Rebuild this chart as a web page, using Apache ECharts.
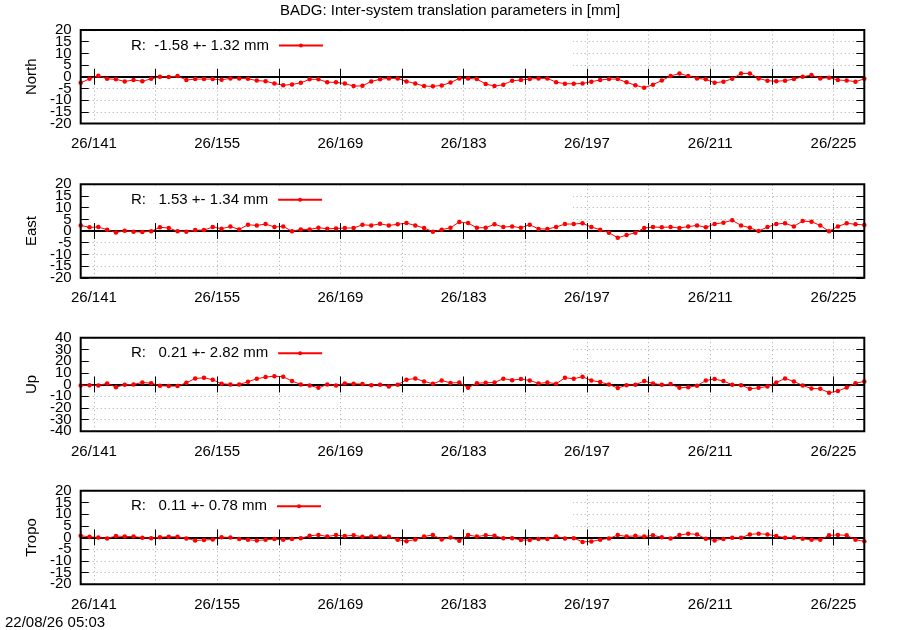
<!DOCTYPE html>
<html>
<head>
<meta charset="utf-8">
<script src="https://cdn.jsdelivr.net/npm/echarts@6/dist/echarts.min.js"></script>
<style>
html, body { margin: 0; padding: 0; background: #fff; }
#main { width: 900px; height: 630px; }
</style>
</head>
<body>
<div id="main"></div>
<script>
// day of year (2026), one solution per day
var days = [139.5, 140.5, 141.5, 142.5, 143.5, 144.5, 145.5, 146.5, 147.5, 148.5,
    149.5, 150.5, 151.5, 152.5, 153.5, 154.5, 155.5, 156.5, 157.5, 158.5,
    159.5, 160.5, 161.5, 162.5, 163.5, 164.5, 165.5, 166.5, 167.5, 168.5,
    169.5, 170.5, 171.5, 172.5, 173.5, 174.5, 175.5, 176.5, 177.5, 178.5,
    179.5, 180.5, 181.5, 182.5, 183.5, 184.5, 185.5, 186.5, 187.5, 188.5,
    189.5, 190.5, 191.5, 192.5, 193.5, 194.5, 195.5, 196.5, 197.5, 198.5,
    199.5, 200.5, 201.5, 202.5, 203.5, 204.5, 205.5, 206.5, 207.5, 208.5,
    209.5, 210.5, 211.5, 212.5, 213.5, 214.5, 215.5, 216.5, 217.5, 218.5,
    219.5, 220.5, 221.5, 222.5, 223.5, 224.5, 225.5, 226.5, 227.5, 228.5];

var northData = [-2.6, -0.9, 0.4, -0.9, -1.1, -2.0, -1.4, -1.9, -0.9, 0.0,
    -0.1, 0.3, -1.4, -1.0, -1.0, -1.0, -1.3, -0.7, -0.7, -0.9,
    -1.6, -1.9, -2.9, -3.6, -3.3, -2.6, -1.1, -1.1, -2.3, -2.4,
    -2.9, -4.0, -3.9, -2.0, -1.1, -0.7, -0.7, -2.0, -2.9, -4.0,
    -4.1, -3.7, -2.5, -0.7, -0.7, -1.0, -3.1, -4.0, -3.4, -1.7,
    -1.4, -1.0, -0.7, -0.7, -2.3, -3.0, -3.0, -2.9, -2.1, -1.4,
    -1.0, -1.0, -2.4, -3.6, -4.7, -3.4, -1.6, 0.3, 1.4, 0.3,
    -0.7, -1.1, -2.6, -2.1, -0.9, 1.4, 1.4, -0.7, -1.7, -1.9,
    -1.7, -1.0, 0.0, 0.7, -0.7, -0.4, -1.4, -1.6, -2.1, -0.9];

var eastData = [2.4, 1.6, 1.7, 0.6, -0.6, 0.1, -0.3, -0.4, -0.1, 1.6,
    1.3, -0.1, -0.3, 0.4, 0.4, 1.7, 1.0, 1.9, 0.7, 2.7,
    2.4, 3.0, 1.7, 2.0, -0.1, 0.7, 0.7, 1.4, 1.0, 1.1,
    1.3, 1.3, 2.7, 2.4, 3.1, 2.4, 2.9, 3.4, 2.4, 1.3,
    -0.3, 0.6, 1.4, 3.9, 3.4, 1.4, 1.4, 2.9, 1.7, 2.0,
    1.4, 2.7, 0.9, 0.9, 1.7, 3.0, 3.0, 3.3, 1.7, 0.6,
    -0.7, -2.9, -1.7, -0.7, 1.3, 1.7, 1.6, 1.7, 1.3, 1.9,
    2.4, 1.6, 3.0, 3.6, 4.6, 2.4, 1.4, 0.0, 1.7, 3.0,
    3.3, 2.0, 4.3, 4.0, 2.4, -0.1, 2.0, 3.3, 2.9, 2.6];

var upData = [-0.9, -0.6, -0.9, 0.9, -2.3, -0.3, 0.0, 1.7, 1.1, -1.1,
    -1.4, -1.4, 1.4, 5.1, 5.7, 4.0, 0.6, 0.0, 0.0, 2.3,
    4.9, 6.3, 7.1, 6.6, 2.9, 0.0, -0.9, -2.9, 0.0, -0.9,
    0.9, 0.6, 0.3, -0.6, -0.3, -1.7, -0.3, 4.0, 5.1, 2.6,
    0.6, 3.4, 1.3, 1.6, -2.8, 1.1, 1.4, 1.7, 4.9, 3.7,
    4.6, 3.4, 0.9, 1.7, 0.6, 5.7, 4.9, 6.6, 3.4, 2.0,
    0.0, -3.1, -0.6, -0.3, 2.9, 0.9, -0.3, 0.3, -2.9, -2.3,
    -1.1, 3.4, 4.6, 2.9, -0.3, -0.6, -3.7, -2.9, -1.7, 1.7,
    5.1, 2.6, -0.9, -3.4, -3.7, -7.1, -5.7, -2.6, 1.1, 2.6];

var tropoData = [0.7, 0.3, 0.0, -0.4, 0.6, 0.4, 0.4, -0.1, -0.3, 0.1,
    0.3, 0.3, -0.4, -1.3, -1.1, -0.9, 0.1, 0.0, -0.7, -1.0,
    -1.3, -1.0, -0.7, -1.0, -0.7, -0.3, 0.7, 1.1, 0.4, 1.0,
    0.6, 0.9, 0.3, 0.4, 0.3, 0.3, -1.0, -1.6, -0.9, 0.4,
    1.1, -0.9, 0.0, -1.4, 1.0, 0.4, 0.9, 0.7, -0.3, -0.3,
    -1.1, -1.1, -0.7, -0.7, 0.4, -0.4, -0.3, -1.9, -1.7, -1.0,
    -0.4, 1.0, 0.4, 0.7, 0.4, 0.9, 0.1, -0.4, 1.0, 1.6,
    1.3, -0.6, -1.3, -0.7, -0.1, -0.1, 1.3, 1.6, 1.3, 0.6,
    -0.1, 0.0, -0.6, -1.0, -1.0, 0.9, 1.1, 0.9, -1.0, -1.6];

var tickDays = [141, 148, 155, 162, 169, 176, 183, 190, 197, 204, 211, 218, 225];
var labelDays = [141, 155, 169, 183, 197, 211, 225];

var panelNames = ['North', 'East', 'Up', 'Tropo'];
var panelData = [northData, eastData, upData, tropoData];
var panelKeys = ['R:  -1.58 +- 1.32 mm', 'R:   1.53 +- 1.34 mm', 'R:   0.21 +- 2.82 mm', 'R:   0.11 +- 0.78 mm'];
var yMin = [-20, -20, -40, -20];
var yMax = [20, 20, 40, 20];
var yStep = [5, 5, 10, 5];

var font = 'Liberation Sans, Arial, sans-serif';
var plotLeft = 80.7, plotRight = 864.3, plotHeight = 93.5;
var panelTops = [30, 184.3, 337.7, 490.7];
var gridDot = { color: '#a8a8a8', type: [1, 3], width: 1 };

var myChart = echarts.init(document.getElementById('main'));

//竖直网格线和零线 (用markLine画)
var markData = [{ yAxis: 0, lineStyle: { color: '#000', width: 1.8, type: 'solid' } }];
tickDays.forEach(function (d) {
    markData.push({ xAxis: d, lineStyle: gridDot });
});

var grids = [], xAxes = [], yAxes = [], series = [], legends = [], boxes = [];
for (var p = 0; p < 4; p++) {
    //y轴刻度值分两组, 否则标签太密会被自动隐藏
    var yEven = [], yOdd = [];
    for (var k = 0, v = yMin[p]; v <= yMax[p]; v += yStep[p], k++) {
        if (k % 2 === 0) yEven.push(v); else yOdd.push(v);
    }

    grids.push({
        left: plotLeft, width: plotRight - plotLeft, top: panelTops[p], height: plotHeight,
        show: true, borderColor: '#000', borderWidth: 2, backgroundColor: 'transparent', z: 4
    });
    //下方x轴: 刻度标签
    xAxes.push({
        gridIndex: p, type: 'value', position: 'bottom', min: 139.5, max: 228.5, z: 5,
        axisLine: { show: false },
        axisTick: { show: true, inside: true, length: 8, customValues: tickDays, lineStyle: { color: '#000' } },
        axisLabel: {
            customValues: labelDays, margin: 13, color: '#000', fontSize: 15, fontFamily: font,
            formatter: function (v) { return '26/' + v; }
        },
        splitLine: { show: false }
    });
    //上方x轴: 只有刻度
    xAxes.push({
        gridIndex: p, type: 'value', position: 'top', min: 139.5, max: 228.5, z: 5,
        axisLine: { show: false },
        axisTick: { show: true, inside: true, length: 8, customValues: tickDays, lineStyle: { color: '#000' } },
        axisLabel: { show: false },
        splitLine: { show: false }
    });
    var yIdx = yAxes.length;
    yAxes.push({
        gridIndex: p, type: 'value', position: 'left', min: yMin[p], max: yMax[p], interval: yStep[p], z: 0,
        name: panelNames[p], nameLocation: 'middle', nameRotate: 90, nameGap: 40,
        nameTextStyle: { color: '#000', fontSize: 15, fontFamily: font },
        axisLine: { show: false },
        axisTick: { show: true, inside: true, length: 8, lineStyle: { color: '#000' } },
        axisLabel: {
            customValues: yEven, margin: 9, color: '#000', fontSize: 15, fontFamily: font,
            showMinLabel: true, showMaxLabel: true
        },
        splitLine: { show: true, lineStyle: gridDot }
    });
    yAxes.push({
        gridIndex: p, type: 'value', position: 'right', min: yMin[p], max: yMax[p], interval: yStep[p], z: 5,
        axisLine: { show: false },
        axisTick: { show: true, inside: true, length: 8, lineStyle: { color: '#000' } },
        axisLabel: { show: false },
        splitLine: { show: false }
    });
    //左侧第二条轴: 只放另一半标签
    yAxes.push({
        gridIndex: p, type: 'value', position: 'left', min: yMin[p], max: yMax[p], interval: yStep[p], z: 0,
        axisLine: { show: false },
        axisTick: { show: false },
        axisLabel: { customValues: yOdd, margin: 9, color: '#000', fontSize: 15, fontFamily: font },
        splitLine: { show: false }
    });
    var pts = [];
    for (var i = 0; i < days.length; i++) pts.push([days[i], panelData[p][i]]);
    series.push({
        name: panelNames[p], type: 'line', xAxisIndex: 2 * p, yAxisIndex: yIdx, z: 2,
        data: pts, symbol: 'circle', symbolSize: 4.5, showSymbol: true,
        lineStyle: { color: '#ff0000', width: 1 }, itemStyle: { color: '#ff0000' },
        markLine: {
            silent: true, symbol: 'none', z: 0.5, animation: false,
            label: { show: false },
            data: markData
        }
    });
    legends.push({
        data: [panelNames[p]], left: 131, top: panelTops[p] + 8, padding: 0,
        align: 'right', itemWidth: 44, itemHeight: 5, selectedMode: false,
        formatter: (function (t) { return function () { return t; }; })(panelKeys[p]),
        textStyle: { color: '#000', fontSize: 15, fontFamily: font, padding: [0, 5, 0, 0] }
    });
    //图例的不透明底框 (盖住网格线)
    boxes.push({
        type: 'rect', z: 1, silent: true,
        shape: { x: plotLeft + 9, y: panelTops[p] + 1.5, width: 573 - plotLeft - 9, height: 38 },
        style: { fill: '#fff' }
    });
}

var option = {
    animation: false,
    backgroundColor: '#fff',
    title: [{
        text: 'BADG: Inter-system translation parameters in [mm]',
        left: 'center', top: 3, padding: 0,
        textStyle: { color: '#000', fontSize: 15, fontWeight: 'normal', fontFamily: font }
    }, {
        text: '22/08/26 05:03',
        left: 5, top: 615, padding: 0,
        textStyle: { color: '#000', fontSize: 15, fontWeight: 'normal', fontFamily: font }
    }],
    legend: legends,
    grid: grids,
    xAxis: xAxes,
    yAxis: yAxes,
    graphic: { elements: boxes },
    series: series
};
myChart.setOption(option);
</script>
</body>
</html>
